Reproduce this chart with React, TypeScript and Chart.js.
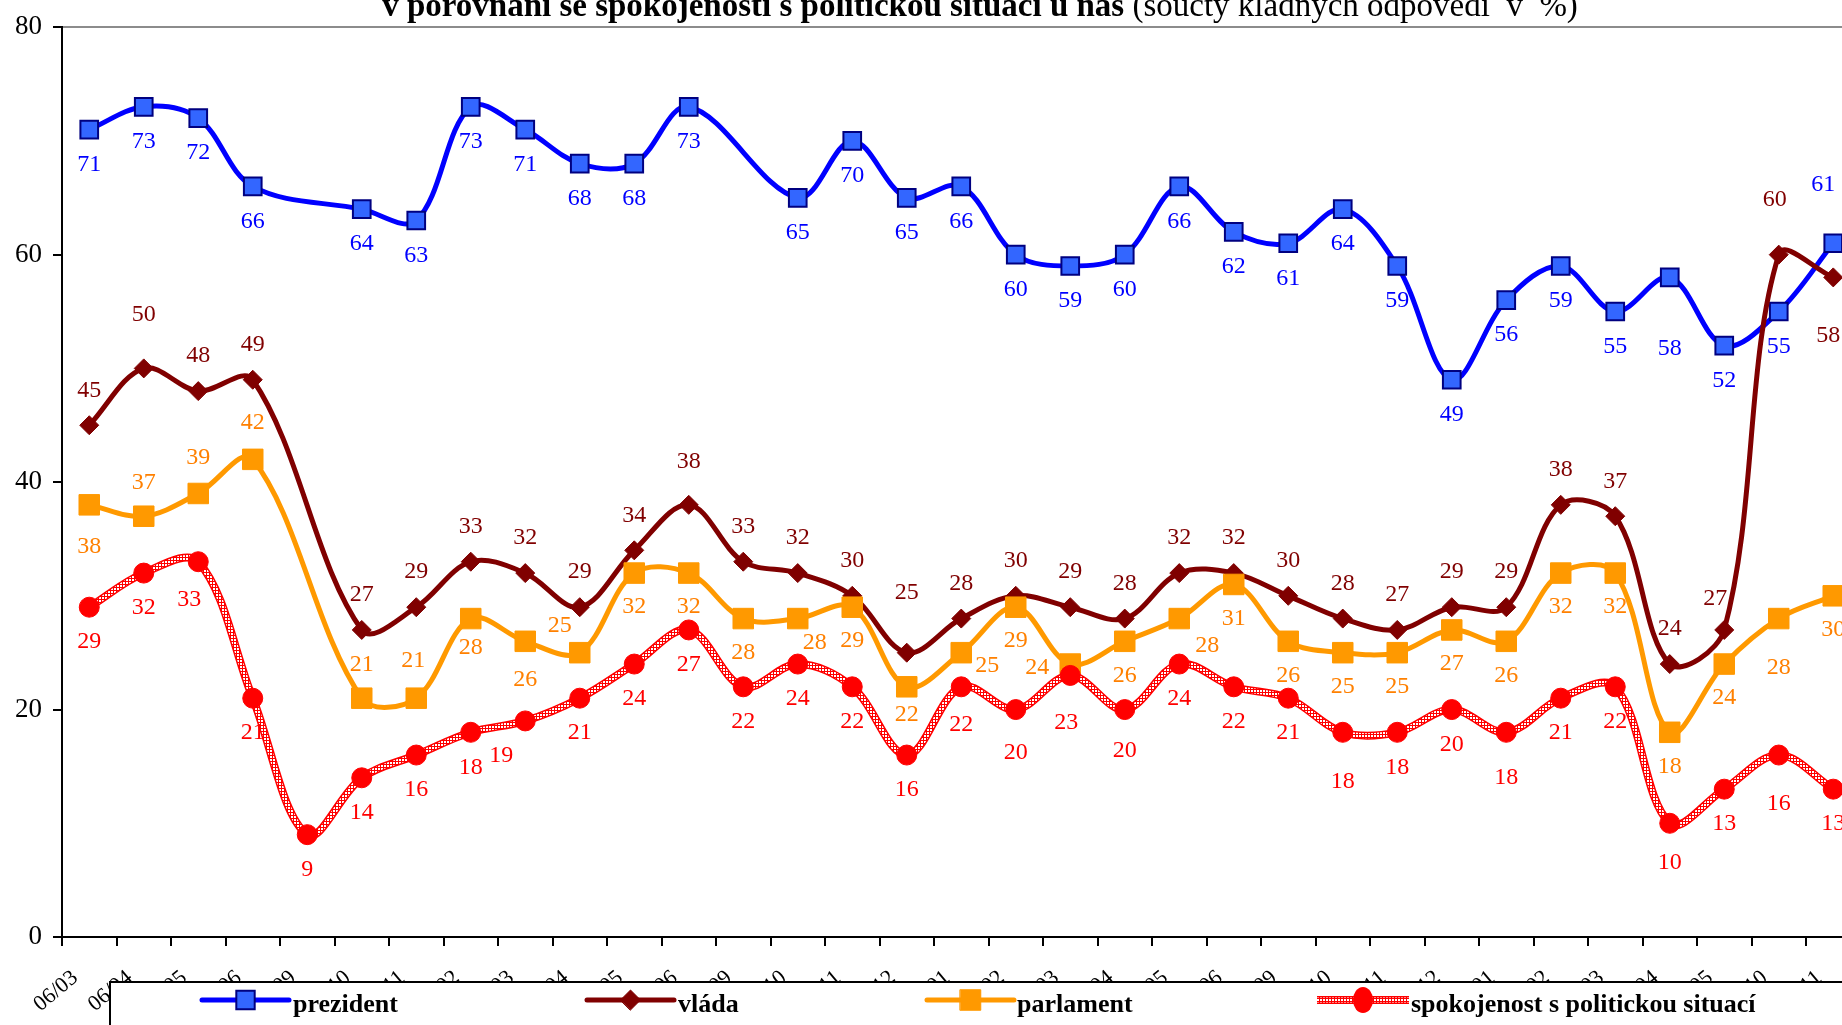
import React, { useEffect, useRef } from "react";
import { Chart, registerables } from "chart.js";

Chart.register(...registerables);

// ---------- data ----------
const categories = [
  "06/03", "06/04", "05", "06", "09", "10", "11",
  "02", "03", "04", "05", "06", "09", "10", "11", "12",
  "01", "02", "03", "04", "05", "06", "09", "10", "11", "12",
  "01", "02", "03", "04", "05", "10", "11",
];
const prezident = [71, 73, 72, 66, null, 64, 63, 73, 71, 68, 68, 73, null, 65, 70, 65, 66, 60, 59, 60, 66, 62, 61, 64, 59, 49, 56, 59, 55, 58, 52, 55, 61];
const vlada = [45, 50, 48, 49, null, 27, 29, 33, 32, 29, 34, 38, 33, 32, 30, 25, 28, 30, 29, 28, 32, 32, 30, 28, 27, 29, 29, 38, 37, 24, 27, 60, 58];
const parlament = [38, 37, 39, 42, null, 21, 21, 28, 26, 25, 32, 32, 28, 28, 29, 22, 25, 29, 24, 26, 28, 31, 26, 25, 25, 27, 26, 32, 32, 18, 24, 28, 30];
const spokojenost = [29, 32, 33, 21, 9, 14, 16, 18, 19, 21, 24, 27, 22, 24, 22, 16, 22, 20, 23, 20, 24, 22, 21, 18, 18, 20, 18, 21, 22, 10, 13, 16, 13];
const seriesNames = ["prezident", "vláda", "parlament", "spokojenost s politickou situací"];
const yMin = 0;
const yMax = 80;
const yStep = 20;

const titleBold = "v porovnání se spokojeností s politickou situací u nás";
const titleNormal = " (součty kladných odpovědí  v  %)";

// ---------- styles ----------
const FONT = "'Liberation Serif', 'Times New Roman', serif";
const C_PREZ = "#0000FF";
const C_PREZ_FILL = "#3366FF";
const C_PREZ_EDGE = "#000080";
const C_VLADA = "#800000";
const C_PARL = "#FF9900";
const C_PARL_TXT = "#FF8000";
const C_SPOK = "#FF0000";
const TENSION = 0.35;

// label placement (pixels relative to the point): default per series + nudges
type Nudge = { dx?: number; dy?: number };
const labelDefaults = [35, -35, 34, 35];
const labelNudges: Record<number, Nudge>[] = [
  { 29: { dy: 71 }, 32: { dx: -10, dy: -59 } },
  { 1: { dy: -54 }, 11: { dy: -43 }, 15: { dy: -60 }, 30: { dx: -9, dy: -31 }, 31: { dx: -4, dy: -55 }, 32: { dx: -5, dy: 58 } },
  {
    0: { dy: 42 }, 1: { dy: -34 }, 2: { dy: -36 }, 3: { dy: -37 }, 5: { dy: -33 }, 6: { dx: -3, dy: -37 },
    7: { dy: 29 }, 8: { dy: 38 }, 9: { dx: -20, dy: -27 }, 13: { dx: 17, dy: 24 }, 15: { dy: 28 },
    16: { dx: 26, dy: 13 }, 18: { dx: -33, dy: 4 }, 20: { dx: 28, dy: 27 }, 31: { dy: 49 },
  },
  {
    2: { dx: -9, dy: 38 }, 8: { dx: -24 }, 16: { dy: 38 }, 17: { dy: 43 }, 18: { dx: -4, dy: 47 },
    19: { dy: 41 }, 23: { dy: 49 }, 26: { dy: 45 }, 29: { dy: 39 }, 31: { dy: 49 },
  },
];
const labelColors = [C_PREZ, C_VLADA, C_PARL_TXT, C_SPOK];

function makePattern(): CanvasPattern | string {
  const c = document.createElement("canvas");
  c.width = 3;
  c.height = 3;
  const g = c.getContext("2d");
  if (!g) return C_SPOK;
  g.fillStyle = C_SPOK;
  g.fillRect(0, 0, 3, 3);
  g.fillStyle = "#FFFFFF";
  g.fillRect(0, 0, 2, 2);
  const p = g.createPattern(c, "repeat");
  return p || C_SPOK;
}

function drawMarker(ctx: CanvasRenderingContext2D, kind: string, x: number, y: number, r: number, fill: string, stroke: string, lw: number) {
  ctx.save();
  ctx.beginPath();
  if (kind === "rect") {
    const s = Math.SQRT1_2 * r;
    ctx.rect(x - s, y - s, 2 * s, 2 * s);
  } else if (kind === "rectRot") {
    ctx.moveTo(x - r, y);
    ctx.lineTo(x, y - r);
    ctx.lineTo(x + r, y);
    ctx.lineTo(x, y + r);
    ctx.closePath();
  } else {
    ctx.arc(x, y, r, 0, Math.PI * 2);
  }
  ctx.fillStyle = fill;
  ctx.fill();
  if (lw > 0) {
    ctx.lineWidth = lw;
    ctx.strokeStyle = stroke;
    ctx.stroke();
  }
  ctx.restore();
}

export default function App() {
  const ref = useRef<HTMLCanvasElement>(null);

  useEffect(() => {
    const canvas = ref.current;
    if (!canvas) return;
    const pattern = makePattern();

    const dataLabelPlugin = {
      id: "dataLabels",
      afterDatasetsDraw(chart: any) {
        const ctx: CanvasRenderingContext2D = chart.ctx;
        ctx.save();
        ctx.font = `24px ${FONT}`;
        ctx.textAlign = "center";
        ctx.textBaseline = "middle";
        chart.data.datasets.forEach((ds: any, di: number) => {
          const s = ds.labelSeries;
          if (s === undefined) return;
          const meta = chart.getDatasetMeta(di);
          ctx.fillStyle = labelColors[s];
          meta.data.forEach((pt: any, i: number) => {
            const v = ds.data[i];
            if (v === null || v === undefined) return;
            const n = labelNudges[s][i] || {};
            const dx = n.dx ?? 0;
            const dy = n.dy ?? labelDefaults[s];
            ctx.fillText(String(v), pt.x + dx, pt.y + dy);
          });
        });
        ctx.restore();
      },
    };

    const titleLegendPlugin = {
      id: "titleLegend",
      afterDraw(chart: any) {
        const ctx: CanvasRenderingContext2D = chart.ctx;
        ctx.save();
        // title (second line, cut at the top of the picture)
        ctx.textBaseline = "alphabetic";
        ctx.textAlign = "left";
        ctx.fillStyle = "#000";
        ctx.font = `bold 33px ${FONT}`;
        const w1 = ctx.measureText(titleBold).width;
        ctx.font = `33px ${FONT}`;
        const w2 = ctx.measureText(titleNormal).width;
        const x0 = 980 - (w1 + w2) / 2;
        ctx.font = `bold 33px ${FONT}`;
        ctx.fillText(titleBold, x0, 16);
        ctx.font = `33px ${FONT}`;
        ctx.fillText(titleNormal, x0 + w1, 16);

        // legend box
        ctx.fillStyle = "#fff";
        ctx.fillRect(110, 982, 1900, 200);
        ctx.lineWidth = 2;
        ctx.strokeStyle = "#000";
        ctx.strokeRect(110, 982, 1900, 200);

        const items = [
          { x1: 202, x2: 289, tx: 293 },
          { x1: 587, x2: 674, tx: 678 },
          { x1: 927, x2: 1014, tx: 1017 },
          { x1: 1317, x2: 1409, tx: 1411 },
        ];
        const ly = 1000;
        items.forEach((it, k) => {
          const mx = (it.x1 + it.x2) / 2;
          ctx.lineCap = "round";
          if (k === 0) {
            ctx.strokeStyle = C_PREZ; ctx.lineWidth = 5;
            ctx.beginPath(); ctx.moveTo(it.x1, ly); ctx.lineTo(it.x2, ly); ctx.stroke();
            drawMarker(ctx, "rect", mx, ly, 13, C_PREZ_FILL, C_PREZ_EDGE, 2);
          } else if (k === 1) {
            ctx.strokeStyle = C_VLADA; ctx.lineWidth = 5;
            ctx.beginPath(); ctx.moveTo(it.x1, ly); ctx.lineTo(it.x2, ly); ctx.stroke();
            drawMarker(ctx, "rectRot", mx, ly, 10, C_VLADA, C_VLADA, 1);
          } else if (k === 2) {
            ctx.strokeStyle = C_PARL; ctx.lineWidth = 5;
            ctx.beginPath(); ctx.moveTo(it.x1, ly); ctx.lineTo(it.x2, ly); ctx.stroke();
            drawMarker(ctx, "rect", mx, ly, 14.5, C_PARL, C_PARL, 1);
          } else {
            ctx.lineCap = "butt";
            ctx.strokeStyle = C_SPOK; ctx.lineWidth = 8;
            ctx.beginPath(); ctx.moveTo(it.x1, ly); ctx.lineTo(it.x2, ly); ctx.stroke();
            ctx.strokeStyle = pattern as any; ctx.lineWidth = 5;
            ctx.beginPath(); ctx.moveTo(it.x1, ly); ctx.lineTo(it.x2, ly); ctx.stroke();
            ctx.save();
            ctx.beginPath();
            ctx.ellipse(mx, ly, 10, 13, 0, 0, Math.PI * 2);
            ctx.fillStyle = C_SPOK;
            ctx.fill();
            ctx.restore();
          }
          ctx.fillStyle = "#000";
          ctx.font = `bold 26px ${FONT}`;
          ctx.textAlign = "left";
          ctx.textBaseline = "alphabetic";
          ctx.fillText(seriesNames[k], it.tx, 1012);
        });
        ctx.restore();
      },
    };

    const lineBase = {
      tension: TENSION,
      spanGaps: true,
      fill: false,
      borderCapStyle: "round" as const,
      borderJoinStyle: "round" as const,
    };

    const chart = new Chart(canvas, {
      type: "line",
      data: {
        labels: categories,
        datasets: [
          {
            ...lineBase,
            label: seriesNames[0],
            data: prezident,
            borderColor: C_PREZ,
            borderWidth: 5,
            pointStyle: "rect",
            pointRadius: 12.5,
            pointBackgroundColor: C_PREZ_FILL,
            pointBorderColor: C_PREZ_EDGE,
            pointBorderWidth: 2,
            order: 5,
            labelSeries: 0,
          } as any,
          {
            ...lineBase,
            label: seriesNames[1],
            data: vlada,
            borderColor: C_VLADA,
            borderWidth: 5,
            pointStyle: "rectRot",
            pointRadius: 9.5,
            pointBackgroundColor: C_VLADA,
            pointBorderColor: C_VLADA,
            pointBorderWidth: 1,
            order: 4,
            labelSeries: 1,
          } as any,
          {
            ...lineBase,
            label: seriesNames[2],
            data: parlament,
            borderColor: C_PARL,
            borderWidth: 5,
            pointStyle: "rect",
            pointRadius: 14.5,
            pointBackgroundColor: C_PARL,
            pointBorderColor: C_PARL,
            pointBorderWidth: 1,
            order: 3,
            labelSeries: 2,
          } as any,
          {
            ...lineBase,
            label: seriesNames[3] + " (line)",
            data: spokojenost,
            borderColor: C_SPOK,
            borderWidth: 8,
            pointRadius: 0,
            order: 2,
          } as any,
          {
            ...lineBase,
            label: seriesNames[3] + " (pattern)",
            data: spokojenost,
            borderColor: pattern as any,
            borderWidth: 5,
            borderCapStyle: "butt",
            pointRadius: 0,
            order: 1,
          } as any,
          {
            ...lineBase,
            label: seriesNames[3],
            data: spokojenost,
            showLine: false,
            pointStyle: "circle",
            pointRadius: 10,
            pointBackgroundColor: C_SPOK,
            pointBorderColor: C_SPOK,
            pointBorderWidth: 1,
            order: 0,
            labelSeries: 3,
          } as any,
        ],
      },
      options: {
        responsive: false,
        animation: false,
        devicePixelRatio: 1,
        layout: { padding: { top: 20, right: 19.5, left: 0, bottom: 0 } },
        plugins: {
          legend: { display: false },
          title: { display: false },
          tooltip: { enabled: false },
        },
        events: [],
        scales: {
          x: {
            type: "category",
            offset: true,
            afterFit: (scale: any) => { scale.height = 88; },
            grid: {
              offset: true,
              drawOnChartArea: false,
              drawTicks: true,
              tickLength: 9,
              tickColor: "#000",
              tickWidth: 2,
              lineWidth: 2,
              color: "#000",
            },
            border: { display: true, color: "#000", width: 2 },
            ticks: {
              autoSkip: false,
              maxRotation: 40,
              minRotation: 40,
              labelOffset: -14,
              padding: 19,
              color: "#000",
              font: { family: FONT, size: 22 },
            },
          },
          y: {
            min: yMin,
            max: yMax,
            afterFit: (scale: any) => { scale.width = 62; },
            grid: {
              color: (c: any) => (c.tick && c.tick.value === yMax ? "#8c8c8c" : "rgba(0,0,0,0)"),
              lineWidth: 2,
              drawTicks: true,
              tickLength: 9,
              tickColor: "#000",
              tickWidth: 2,
            },
            border: { display: true, color: "#000", width: 2 },
            ticks: {
              stepSize: yStep,
              padding: 11,
              color: "#000",
              font: { family: FONT, size: 27 },
            },
          },
        },
      },
      plugins: [dataLabelPlugin, titleLegendPlugin],
    } as any);

    return () => chart.destroy();
  }, []);

  return (
    <div
      style={{
        position: "fixed",
        left: 0,
        top: 0,
        width: 1842,
        height: 1025,
        overflow: "hidden",
        background: "#fff",
      }}
    >
      <canvas ref={ref} width={1880} height={1025} style={{ display: "block", width: 1880, height: 1025 }} />
    </div>
  );
}
